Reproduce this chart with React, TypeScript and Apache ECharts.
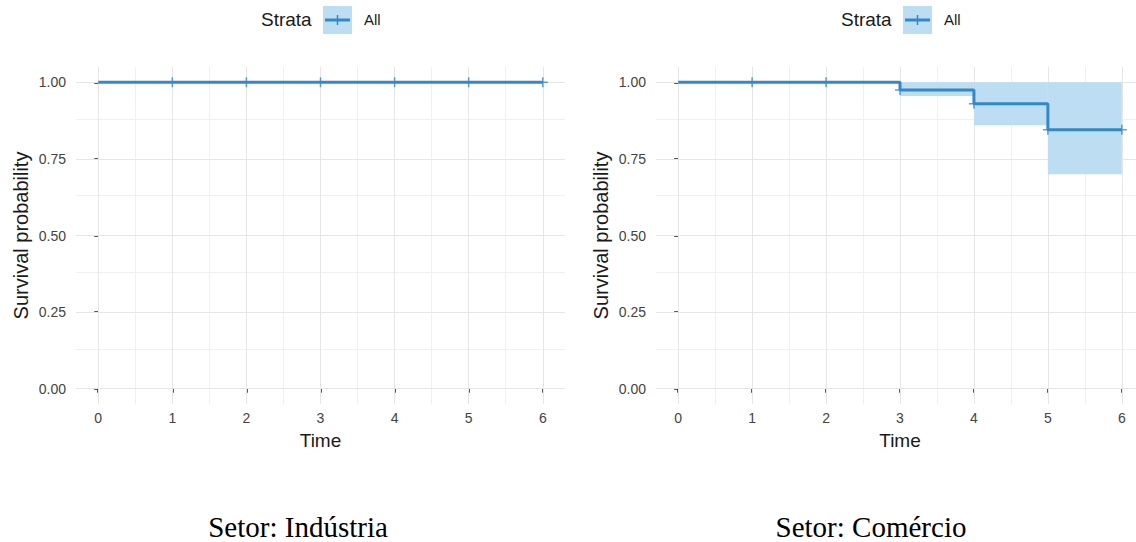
import React, { useEffect, useRef } from "react";
import * as echarts from "echarts";

// ---- Data ----
const xTicks = [0, 1, 2, 3, 4, 5, 6];
const yTicks = [0, 0.25, 0.5, 0.75, 1];
const xMinor = [0.5, 1.5, 2.5, 3.5, 4.5, 5.5];
const yMinor = [0.125, 0.375, 0.625, 0.875];

// Panel 1: Indústria
const indTimes = [0, 6];
const indSurv = [1, 1];
const indCensorTimes = [1, 2, 3, 4, 5, 6];
const indCensorSurv = [1, 1, 1, 1, 1, 1];

// Panel 2: Comércio
const comTimes = [0, 3, 4, 5, 6];
const comSurv = [1, 0.975, 0.93, 0.845, 0.845];
const comCensorTimes = [1, 2, 3, 4, 5, 6];
const comCensorSurv = [1, 1, 0.975, 0.93, 0.845, 0.845];
const comCiStart = [3, 4, 5];
const comCiEnd = [4, 5, 6];
const comCiLower = [0.955, 0.86, 0.7];
const comCiUpper = [1, 1, 1];

const panelTitles = ["Setor: Indústria", "Setor: Comércio"];
const legendTitle = "Strata";
const legendLabel = "All";

const LINE = "#3388CC";
const BAND = "#BDDDF3";
const FONT = "Liberation Sans";

export default function App() {
  const ref = useRef<HTMLDivElement>(null);
  useEffect(() => {
    if (!ref.current) return;
    const chart = echarts.init(ref.current, undefined, { renderer: "svg" });

    const grids = [
      { left: 76, top: 67, width: 489, height: 337 },
      { left: 656, top: 67, width: 488, height: 337 },
    ];

    const xAxes = grids.map((_, i) => ({
      type: "value",
      gridIndex: i,
      min: -0.3,
      max: 6.3,
      minInterval: 1,
      maxInterval: 1,
      name: "Time",
      nameLocation: "middle",
      nameGap: 27,
      nameTextStyle: { fontFamily: FONT, fontSize: 19, color: "#1A1A1A" },
      axisLine: { show: false },
      axisTick: {
        show: true,
        length: 4,
        customValues: xTicks,
        lineStyle: { color: "#222222", width: 1.5, opacity: 1 },
      },
      axisLabel: {
        customValues: xTicks,
        margin: 7,
        fontFamily: FONT,
        fontSize: 14,
        color: "#444444",
        formatter: (v: number) => String(v),
      },
      splitLine: { show: false },
    }));

    const yAxes = grids.map((_, i) => ({
      type: "value",
      gridIndex: i,
      min: -0.05,
      max: 1.05,
      minInterval: 0.25,
      maxInterval: 0.25,
      name: "Survival probability",
      nameLocation: "middle",
      nameGap: 45,
      nameTextStyle: { fontFamily: FONT, fontSize: 20, color: "#1A1A1A" },
      axisLine: { show: false },
      axisTick: {
        show: true,
        length: 4,
        customValues: yTicks,
        lineStyle: { color: "#222222", width: 1.5, opacity: 1 },
      },
      axisLabel: {
        customValues: yTicks,
        margin: 10,
        fontFamily: FONT,
        fontSize: 14,
        color: "#444444",
        formatter: (v: number) => v.toFixed(2),
      },
      splitLine: { show: false },
    }));

    const gridMarkLine = () => ({
      silent: true,
      symbol: ["none", "none"],
      label: { show: false },
      z: 1,
      emphasis: { disabled: true },
      data: [
        ...xMinor.map((v) => ({ xAxis: v, lineStyle: { color: "#F0F0F0", width: 1, type: "solid" } })),
        ...yMinor.map((v) => ({ yAxis: v, lineStyle: { color: "#F0F0F0", width: 1, type: "solid" } })),
        ...xTicks.map((v) => ({ xAxis: v, lineStyle: { color: "#E6E6E6", width: 1, type: "solid" } })),
        ...yTicks.map((v) => ({ yAxis: v, lineStyle: { color: "#E6E6E6", width: 1, type: "solid" } })),
      ],
    });

    const gridSeries = (i: number) => ({
      type: "line",
      xAxisIndex: i,
      yAxisIndex: i,
      data: [[0, 1]],
      symbol: "none",
      lineStyle: { opacity: 0 },
      silent: true,
      z: 0,
      markLine: gridMarkLine(),
    });

    const curve = (i: number, t: number[], s: number[]) => ({
      type: "line",
      xAxisIndex: i,
      yAxisIndex: i,
      step: "end",
      symbol: "none",
      z: 4,
      lineStyle: { color: LINE, width: 3 },
      data: t.map((x, k) => [x, s[k]]),
    });

    const censor = (i: number, t: number[], s: number[]) => ({
      type: "scatter",
      xAxisIndex: i,
      yAxisIndex: i,
      symbol: "path://M5,0L5,10M0,5L10,5",
      symbolSize: 10,
      z: 5,
      itemStyle: { color: "transparent", borderColor: LINE, borderWidth: 1.5 },
      data: t.map((x, k) => [x, s[k]]),
    });

    const band = {
      type: "custom",
      xAxisIndex: 1,
      yAxisIndex: 1,
      z: 3,
      encode: { x: [0, 1], y: [2, 3] },
      data: comCiStart.map((s, k) => [s, comCiEnd[k], comCiLower[k], comCiUpper[k]]),
      renderItem: (params: any, api: any) => {
        const p1 = api.coord([api.value(0), api.value(3)]);
        const p2 = api.coord([api.value(1), api.value(2)]);
        return {
          type: "rect",
          shape: { x: p1[0], y: p1[1], width: p2[0] - p1[0], height: p2[1] - p1[1] },
          style: { fill: BAND, stroke: "none" },
        };
      },
    };

    const legend = (dx: number) => [
      {
        type: "text",
        left: 261 + dx,
        top: 10,
        style: { text: legendTitle, fontFamily: FONT, fontSize: 19, fill: "#1A1A1A" },
      },
      {
        type: "rect",
        shape: { x: 323 + dx, y: 6, width: 29, height: 28 },
        style: { fill: BAND },
      },
      {
        type: "line",
        shape: { x1: 325 + dx, y1: 20, x2: 350 + dx, y2: 20 },
        style: { stroke: LINE, lineWidth: 3 },
      },
      {
        type: "line",
        shape: { x1: 337.5 + dx, y1: 15, x2: 337.5 + dx, y2: 25 },
        style: { stroke: LINE, lineWidth: 1.5 },
      },
      {
        type: "text",
        left: 364 + dx,
        top: 12,
        style: { text: legendLabel, fontFamily: FONT, fontSize: 15, fill: "#1A1A1A" },
      },
    ];

    const captions = [298, 871].map((cx, i) => ({
      type: "text",
      x: cx,
      y: 527,
      style: {
        text: panelTitles[i],
        fontFamily: "Liberation Serif",
        fontSize: 29,
        fill: "#000000",
        align: "center",
        verticalAlign: "middle",
      },
    }));

    chart.setOption({
      animation: false,
      backgroundColor: "#FFFFFF",
      grid: grids,
      xAxis: xAxes,
      yAxis: yAxes,
      series: [
        gridSeries(0),
        gridSeries(1),
        band,
        curve(0, indTimes, indSurv),
        curve(1, comTimes, comSurv),
        censor(0, indCensorTimes, indCensorSurv),
        censor(1, comCensorTimes, comCensorSurv),
      ],
      graphic: [...legend(0), ...legend(580), ...captions],
    });

    return () => chart.dispose();
  }, []);

  return (
    <div
      style={{
        position: "fixed",
        left: 0,
        top: 0,
        width: 1136,
        height: 542,
        overflow: "hidden",
        background: "#FFFFFF",
      }}
    >
      <div ref={ref} style={{ width: 1160, height: 542 }} />
    </div>
  );
}
